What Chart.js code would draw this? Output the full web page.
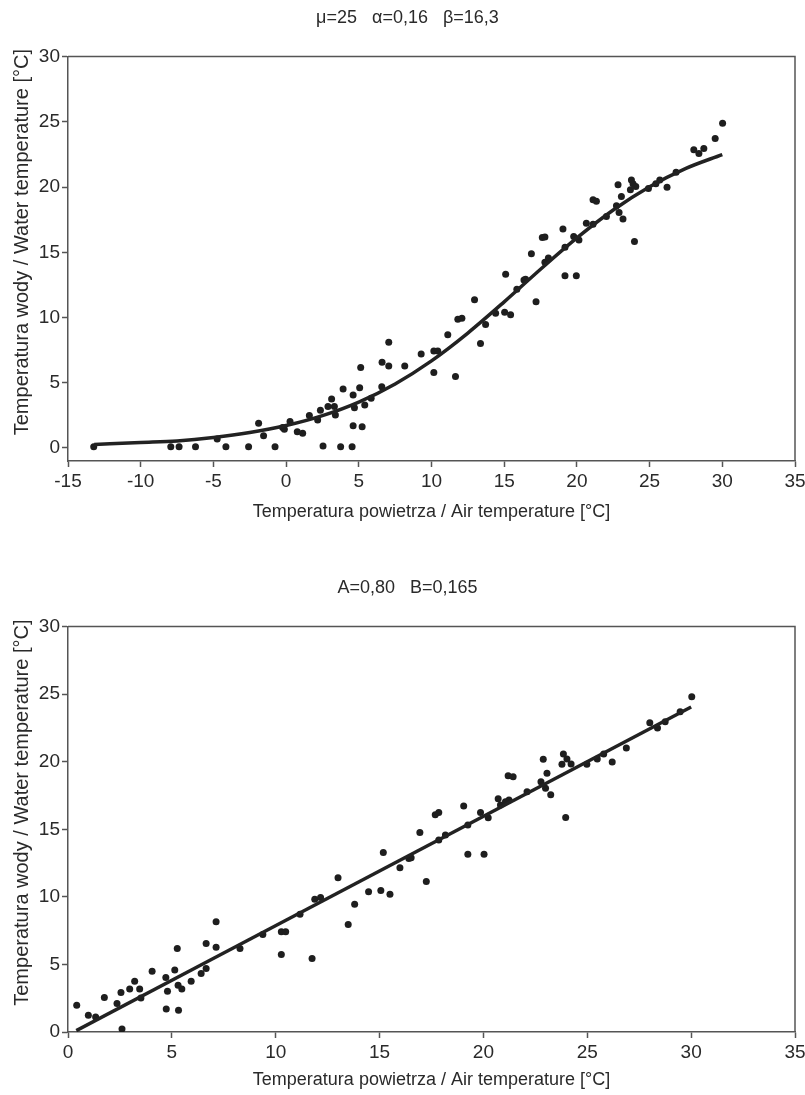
<!DOCTYPE html>
<html>
<head>
<meta charset="utf-8">
<script src="https://cdn.jsdelivr.net/npm/chart.js@4.4.1/dist/chart.umd.min.js"></script>
<style>
  body { margin: 0; background: #fff; }
  canvas { display: block; }
</style>
</head>
<body>
<canvas id="grafTop" width="805" height="545"></canvas>
<canvas id="grafBottom" width="805" height="550"></canvas>
<script>
// tick labels
const xTicksTop = [-15, -10, -5, 0, 5, 10, 15, 20, 25, 30, 35];
const xTicksBottom = [0, 5, 10, 15, 20, 25, 30, 35];
const yTicks = [0, 5, 10, 15, 20, 25, 30];

// panel 1: measured points (air temp, water temp)
const topAirT = [-13.23, -7.93, -7.36, -6.23, -4.74, -4.14, -2.58, -1.89, -1.55, -0.76, -0.24, -0.12,
    0.27, 0.77, 1.14, 1.6, 2.17, 2.36, 2.54, 2.88, 3.13, 3.32, 3.39, 3.75, 3.92, 4.54, 4.61, 4.61,
    4.70, 5.06, 5.13, 5.23, 5.41, 5.85, 6.58, 6.6, 7.06, 7.06, 8.16, 9.29, 10.16, 10.43, 10.16, 11.12,
    11.65, 11.81, 12.09, 12.96, 13.37, 13.72, 14.41, 15.03, 15.1, 15.44, 15.87, 16.36, 16.47, 16.87,
    17.19, 17.62, 17.8, 17.8, 18.04, 19.04, 19.18, 19.18, 19.78, 19.96, 20.14, 20.65, 21.11, 21.34,
    21.11, 22.03, 22.83, 22.72, 22.9, 23.06, 23.17, 23.75, 23.86, 23.68, 24.05, 23.96, 24.92, 25.43,
    25.7, 26.2, 26.82, 28.04, 28.39, 28.73, 29.51, 30.02];
const topWaterT = [0.1, 0.1, 0.1, 0.1, 0.69, 0.1, 0.1, 1.89, 0.94, 0.1, 1.56, 1.43,
    2.02, 1.25, 1.12, 2.48, 2.15, 2.89, 0.15, 3.17, 3.76, 3.17, 2.53, 0.1, 4.52, 0.1, 4.06, 1.71,
    3.09, 4.62, 6.16, 1.63, 3.3, 3.81, 4.7, 6.57, 8.1, 6.29, 6.29, 7.21, 7.44, 7.44, 5.78, 8.67,
    5.47, 9.87, 9.95, 11.37, 8.0, 9.46, 10.33, 10.41, 13.32, 10.22, 12.17, 12.88, 12.93, 14.88,
    11.2, 16.13, 16.18, 14.24, 14.57, 16.79, 13.21, 15.39, 16.2, 13.21, 15.95, 17.23, 19.02, 18.92,
    17.15, 17.74, 20.17, 18.56, 18.04, 19.27, 17.56, 20.55, 20.25, 19.79, 20.04, 15.82, 19.89, 20.25,
    20.55, 19.99, 21.14, 22.85, 22.57, 22.95, 23.72, 24.9];

// panel 1: fitted curve
const curveAirT = [-13.2, -10, -7.5, -5, -2.5, 0, 2.5, 5, 7.5, 10, 12.5, 15, 17.5, 20, 22.5, 25, 27.5, 30];
const curveWaterT = [0.27, 0.42, 0.54, 0.8, 1.18, 1.72, 2.48, 3.52, 4.91, 6.68, 8.81, 11.2, 13.7, 16.1, 18.24, 20.02, 21.43, 22.49];

// panel 2: measured points
const bottomAirT = [0.42, 0.98, 1.33, 1.75, 2.36, 2.55, 2.6, 2.97, 3.21, 3.45, 3.51, 4.05, 4.71, 4.73,
    4.79, 5.14, 5.26, 5.3, 5.32, 5.48, 5.93, 6.41, 6.65, 6.65, 7.13, 7.13, 8.28, 9.38, 10.27, 10.48,
    10.27, 11.17, 11.75, 11.88, 12.16, 13.0, 13.49, 13.8, 14.47, 15.06, 15.18, 15.5, 15.98, 16.41,
    16.52, 16.94, 17.25, 17.68, 17.85, 17.85, 18.17, 19.05, 19.25, 19.25, 19.86, 20.03, 20.23, 20.71,
    20.82, 21.06, 21.23, 21.19, 21.43, 22.1, 22.77, 22.88, 22.99, 23.06, 23.24, 23.85, 23.78, 24.02,
    24.22, 23.96, 24.98, 25.48, 25.79, 26.2, 26.88, 28.01, 28.38, 28.75, 29.47, 30.03];
const bottomWaterT = [1.98, 1.24, 1.11, 2.55, 2.1, 2.92, 0.22, 3.19, 3.76, 3.19, 2.52, 4.5, 4.03, 1.7,
    3.01, 4.59, 6.18, 3.46, 1.61, 3.19, 3.76, 4.32, 4.7, 6.55, 8.15, 6.27, 6.18, 7.21, 7.41, 7.41,
    5.73, 8.72, 5.43, 9.83, 9.95, 11.41, 7.95, 9.46, 10.37, 10.47, 13.29, 10.2, 12.15, 12.84,
    12.9, 14.77, 11.14, 16.07, 16.25, 14.2, 14.57, 16.72, 15.31, 13.16, 16.25, 13.16, 15.85, 17.26,
    16.79, 17.04, 17.16, 18.96, 18.89, 17.78, 18.52, 20.18, 18.03, 19.14, 17.56, 20.57, 19.81, 20.2,
    19.83, 15.88, 19.81, 20.2, 20.57, 19.98, 21.01, 22.89, 22.5, 22.96, 23.7, 24.81];

// panel 2: fitted line
const lineAirT = [0.4, 30];
const lineWaterT = [0.1, 24.05];

const FUENTE = "'Liberation Sans Narrow', 'Arial Narrow', 'Liberation Sans', sans-serif";
const COLOR_EJE = '#555555';
const COLOR_TEXTO = '#2a2a2a';

Chart.defaults.font.family = FUENTE;
Chart.defaults.color = COLOR_TEXTO;

function pares(xs, ys) {
    return xs.map((x, i) => ({ x: x, y: ys[i] }));
}

// top and right sides of the frame
const marco = {
    id: 'marco',
    beforeDatasetsDraw(chart) {
        const a = chart.chartArea;
        const ctx = chart.ctx;
        ctx.save();
        ctx.strokeStyle = COLOR_EJE;
        ctx.lineWidth = 1.5;
        ctx.beginPath();
        ctx.moveTo(a.left, a.top);
        ctx.lineTo(a.right, a.top);
        ctx.lineTo(a.right, a.bottom);
        ctx.stroke();
        ctx.restore();
    }
};

function crearGrafica(id, cfg) {
    const ctx = document.getElementById(id).getContext('2d');
    return new Chart(ctx, {
        type: 'scatter',
        data: {
            datasets: [{
                data: pares(cfg.lineaX, cfg.lineaY),
                showLine: true,
                borderColor: '#222',
                borderWidth: 3.5,
                pointRadius: 0,
                cubicInterpolationMode: 'monotone',
                order: 0
            }, {
                data: pares(cfg.puntosX, cfg.puntosY),
                backgroundColor: '#1e1e1e',
                borderWidth: 0,
                pointRadius: 3.5,
                order: 1
            }]
        },
        options: {
            responsive: false,
            animation: false,
            layout: { padding: { left: 10, right: 0, top: 0, bottom: 0 } },
            plugins: {
                legend: { display: false },
                tooltip: { enabled: false },
                title: {
                    display: true,
                    text: cfg.titulo,
                    color: COLOR_TEXTO,
                    font: { size: 18, weight: 'normal' },
                    padding: cfg.tituloPad
                }
            },
            scales: {
                x: {
                    type: 'linear',
                    min: cfg.xTicks[0],
                    max: cfg.xTicks[cfg.xTicks.length - 1],
                    afterBuildTicks: s => { s.ticks = cfg.xTicks.map(v => ({ value: v })); },
                    afterFit: s => { s.height = cfg.altoEjeX; s.paddingRight = 10; s.paddingLeft = 0; },
                    grid: { drawOnChartArea: false, drawTicks: true, tickLength: 6, tickColor: COLOR_EJE, tickWidth: 1.5 },
                    border: { display: true, color: COLOR_EJE, width: 1.5 },
                    ticks: { font: { size: 19 }, padding: 3, maxRotation: 0, autoSkip: false },
                    title: {
                        display: true,
                        text: 'Temperatura powietrza / Air temperature [°C]',
                        font: { size: 18 },
                        padding: { top: 0, bottom: cfg.tituloXPad }
                    }
                },
                y: {
                    type: 'linear',
                    min: cfg.yMin,
                    max: 30,
                    afterBuildTicks: s => { s.ticks = yTicks.map(v => ({ value: v })); },
                    afterFit: s => { s.width = 58; },
                    grid: { drawOnChartArea: false, drawTicks: true, tickLength: 6, tickColor: COLOR_EJE, tickWidth: 1.5 },
                    border: { display: true, color: COLOR_EJE, width: 1.5 },
                    ticks: { font: { size: 19 }, padding: 2, autoSkip: false },
                    title: {
                        display: true,
                        // leading spaces nudge the rotated label upwards as in the original
                        text: '      Temperatura wody / Water temperature [°C]',
                        font: { size: 20 },
                        padding: { top: 0, bottom: 0 }
                    }
                }
            }
        },
        plugins: [marco]
    });
}

crearGrafica('grafTop', {
    titulo: 'μ=25   α=0,16   β=16,3',
    tituloPad: { top: 7, bottom: 28 },
    xTicks: xTicksTop,
    yMin: -1,
    altoEjeX: 84,
    tituloXPad: 22,
    puntosX: topAirT, puntosY: topWaterT,
    lineaX: curveAirT, lineaY: curveWaterT
});

crearGrafica('grafBottom', {
    titulo: 'A=0,80   B=0,165',
    tituloPad: { top: 32, bottom: 28 },
    xTicks: xTicksBottom,
    yMin: 0,
    altoEjeX: 63,
    tituloXPad: 4,
    puntosX: bottomAirT, puntosY: bottomWaterT,
    lineaX: lineAirT, lineaY: lineWaterT
});
</script>
</body>
</html>
